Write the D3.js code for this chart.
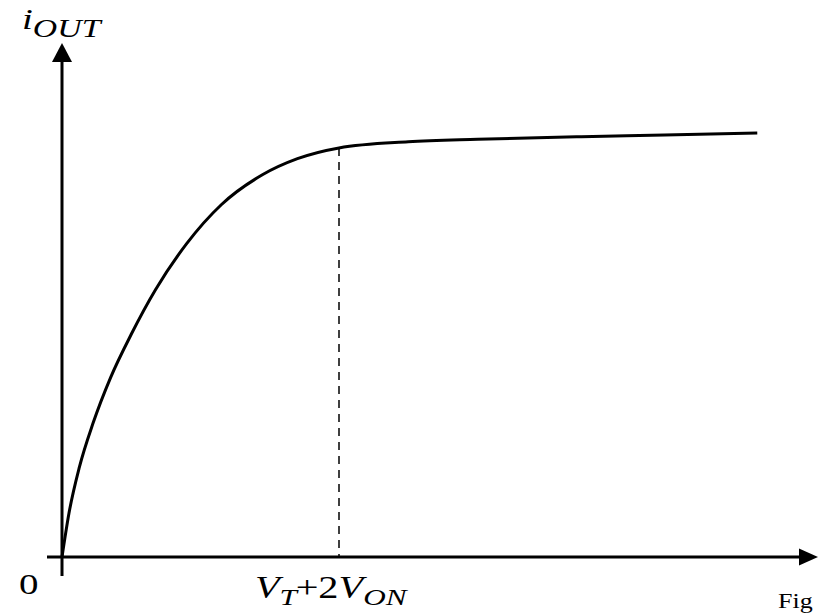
<!DOCTYPE html>
<html>
<head>
<meta charset="utf-8">
<script src="https://cdn.jsdelivr.net/npm/d3@7"></script>
<style>
  html, body { margin: 0; padding: 0; background: #fff; }
  svg { display: block; }
  text { font-family: "Liberation Serif", "Times New Roman", serif; fill: #000; }
</style>
</head>
<body>
<svg id="chart" width="828" height="614"></svg>
<script>
// Output current vs. voltage: square-law rise, then saturation with slight slope
const voltage = [0, 0.1, 0.25, 0.45, 0.7, 1.0, 1.35, 1.8, 2.3, 2.9, 3.4, 4.0, 5.0, 6.0, 7.5, 8.7, 10.04];
const current = [0, 0.85, 1.75, 2.62, 3.5, 4.35, 5.22, 6.12, 6.88, 7.47, 7.78, 7.99, 8.11, 8.16, 8.21, 8.24, 8.28];
const kneeVoltage = 4.0;   // V_T + 2V_ON

const svg = d3.select("#chart");
const x = d3.scaleLinear().domain([0, 10]).range([62, 754.5]);
const y = d3.scaleLinear().domain([0, 10]).range([557, 45]);

const x0 = x(0), y0 = y(0);
const xEnd = 818, yTop = 43;
const stretch = 1.3;   // horizontal stretch applied to all lettering

// axes
svg.append("line").attr("x1", 47).attr("y1", y0).attr("x2", xEnd - 14).attr("y2", y0)
  .attr("stroke", "#000").attr("stroke-width", 3);
svg.append("line").attr("x1", x0).attr("y1", 576).attr("x2", x0).attr("y2", yTop + 14)
  .attr("stroke", "#000").attr("stroke-width", 3);

// arrowheads
svg.append("path")
  .attr("d", `M${xEnd},${y0} L${xEnd - 19},${y0 - 8.5} L${xEnd - 19},${y0 + 8.5} Z`)
  .attr("fill", "#000");
svg.append("path")
  .attr("d", `M${x0},${yTop} L${x0 - 10},${yTop + 19} L${x0 + 10},${yTop + 19} Z`)
  .attr("fill", "#000");

// knee marker
const kneeIdx = voltage.indexOf(kneeVoltage);
svg.append("line")
  .attr("x1", x(kneeVoltage)).attr("x2", x(kneeVoltage))
  .attr("y1", y(current[kneeIdx])).attr("y2", y0)
  .attr("stroke", "#000").attr("stroke-width", 1.5)
  .attr("stroke-dasharray", "8,6");

// characteristic curve
const line = d3.line()
  .x((d, i) => x(voltage[i]))
  .y((d, i) => y(current[i]))
  .curve(d3.curveMonotoneX);
svg.append("path")
  .datum(voltage)
  .attr("d", line)
  .attr("fill", "none")
  .attr("stroke", "#000")
  .attr("stroke-width", 3)
  .attr("stroke-linejoin", "round");

// labels (lettering is drawn slightly wide)
function label(px, py) {
  return svg.append("text").attr("transform", `translate(${px},${py}) scale(${stretch},1)`);
}

const yLabel = label(22, 29).attr("font-style", "italic");
yLabel.append("tspan").attr("font-size", 30).text("i");
yLabel.append("tspan").attr("font-size", 26).attr("dy", 8).text("OUT");

label(19, 594).attr("font-size", 30).text("0");

const xLabel = label(255, 598).attr("font-size", 31);
xLabel.append("tspan").attr("font-style", "italic").text("V");
xLabel.append("tspan").attr("font-style", "italic").attr("font-size", 24).attr("dy", 7).text("T");
xLabel.append("tspan").attr("dy", -7).attr("dx", -1).text("+2");
xLabel.append("tspan").attr("font-style", "italic").text("V");
xLabel.append("tspan").attr("font-style", "italic").attr("font-size", 24).attr("dy", 7).text("ON");

label(778, 608).attr("font-size", 20).text("Fig");
</script>
</body>
</html>
